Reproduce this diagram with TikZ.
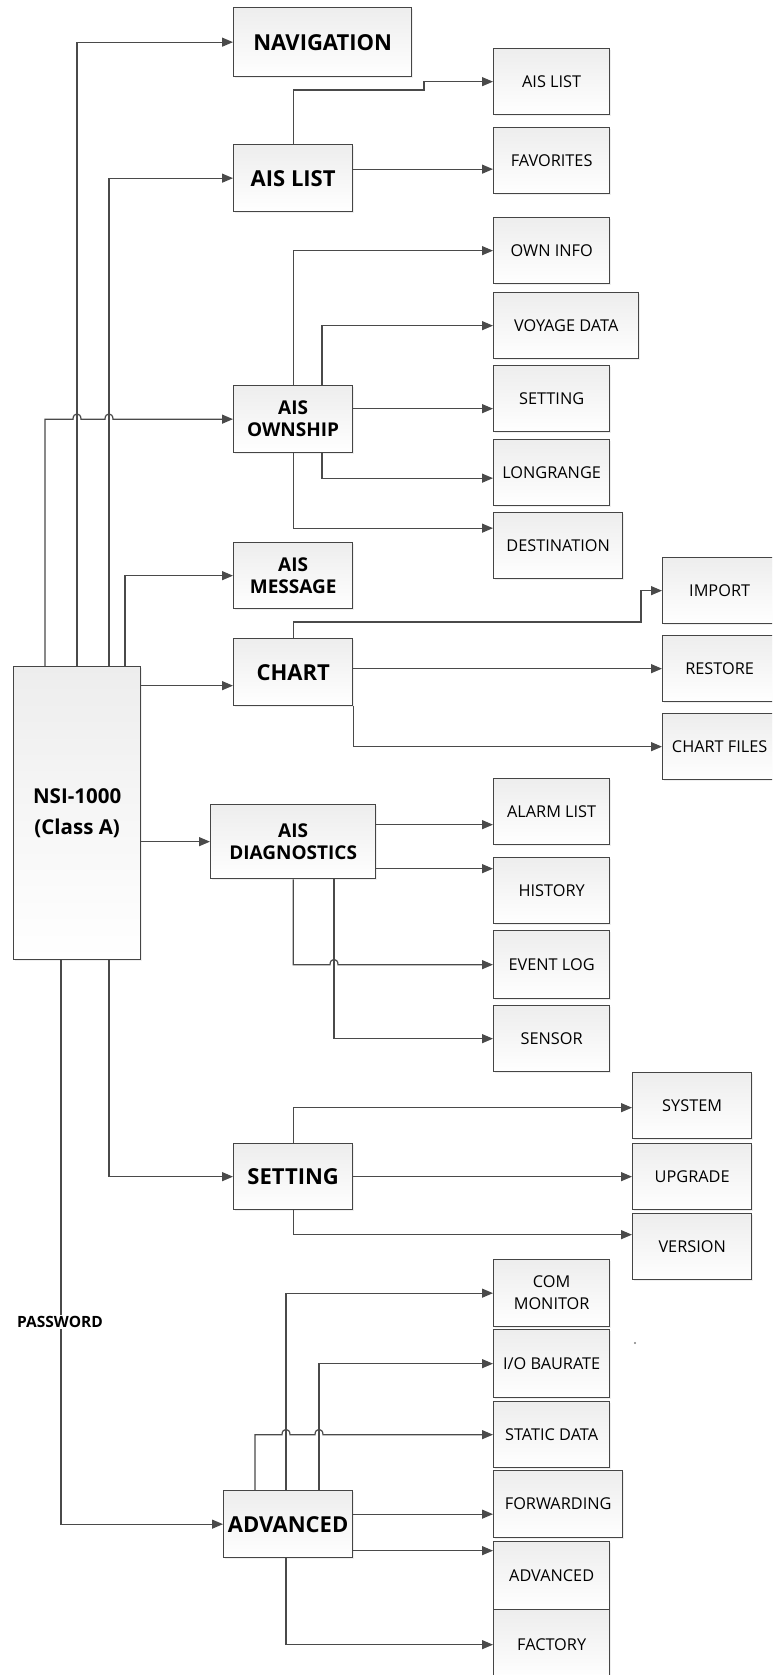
\documentclass[tikz,border=0pt]{standalone}
\usepackage{fontspec}
\setmainfont{Open Sans}
\usetikzlibrary{arrows.meta,shadows,calc}
\definecolor{edge}{HTML}{454545}
\definecolor{ln}{HTML}{4A4A4A}
\tikzset{
 box/.style={draw=edge, line width=1.3pt, top color=gray!14, bottom color=white, anchor=north west, inner sep=0pt, align=center, drop shadow={opacity=0.12, shadow xshift=1.5pt, shadow yshift=-1.5pt}},
 mainbox/.style={box, font=\bfseries\fontsize{22}{24}\selectfont},
 mainboxtwo/.style={box, font=\bfseries\fontsize{19}{22}\selectfont},
 nsibox/.style={box, font=\bfseries\fontsize{20.5}{31}\selectfont},
 subbox/.style={box, font=\fontsize{16.3}{22}\selectfont, minimum width=116pt, minimum height=66pt},
 conn/.style={draw=ln, line width=1.2pt},
 arr/.style={conn, -{Triangle[length=11pt,width=9pt]}},
 pwlabel/.style={fill=white, inner sep=1pt, font=\bfseries\fontsize{15.5}{17}\selectfont},
}
\begin{document}
\begin{tikzpicture}[x=1pt,y=-1pt]
\useasboundingbox (0,0) rectangle (772,1675);
\clip (0,0) rectangle (772,1675);
\fill[white] (0,0) rectangle (772,1675);
% main boxes
\node[nsibox, minimum width=127pt, minimum height=293pt] (nsi) at (13,666) {NSI-1000\\(Class A)};
\node[mainbox, minimum width=178pt, minimum height=69pt] (nav) at (233,7) {NAVIGATION};
\node[mainbox, minimum width=119pt, minimum height=67pt] (aislist) at (233,144) {AIS LIST};
\node[mainboxtwo, minimum width=119pt, minimum height=67pt] (own) at (233,385) {AIS\\OWNSHIP};
\node[mainboxtwo, minimum width=119pt, minimum height=66pt] (msg) at (233,542) {AIS\\MESSAGE};
\node[mainbox, minimum width=119pt, minimum height=67pt] (chart) at (233,638) {CHART};
\node[mainboxtwo, minimum width=165pt, minimum height=74pt] (diag) at (210,804) {AIS\\DIAGNOSTICS};
\node[mainbox, minimum width=119pt, minimum height=66pt] (set) at (233,1143) {SETTING};
\node[mainbox, minimum width=129pt, minimum height=67pt] (adv) at (223,1490) {ADVANCED};
% sub boxes
\node[subbox] (sublist) at (493,48) {AIS LIST};
\node[subbox] (fav) at (493,127) {FAVORITES};
\node[subbox] (owninfo) at (493,217) {OWN INFO};
\node[subbox, minimum width=145pt] (voyage) at (493,292) {VOYAGE DATA};
\node[subbox] (ownset) at (493,365) {SETTING};
\node[subbox] (longr) at (493,439) {LONGRANGE};
\node[subbox, minimum width=129pt] (dest) at (493,512) {DESTINATION};
\node[subbox, minimum width=114pt] (import) at (662,557) {IMPORT};
\node[subbox, minimum width=114pt] (restore) at (662,635) {RESTORE};
\node[subbox, minimum width=114pt] (chfiles) at (662,713) {CHART FILES};
\node[subbox] (alarm) at (493,778) {ALARM LIST};
\node[subbox] (hist) at (493,857) {HISTORY};
\node[subbox, minimum height=68pt] (event) at (493,930) {EVENT LOG};
\node[subbox] (sensor) at (493,1005) {SENSOR};
\node[subbox, minimum width=119pt] (system) at (632,1072) {SYSTEM};
\node[subbox, minimum width=119pt] (upgrade) at (632,1143) {UPGRADE};
\node[subbox, minimum width=119pt] (version) at (632,1213) {VERSION};
\node[subbox, minimum height=67pt] (com) at (493,1259) {COM\\MONITOR};
\node[subbox, minimum height=68pt] (io) at (493,1329) {I/O BAURATE};
\node[subbox] (static) at (493,1401) {STATIC DATA};
\node[subbox, minimum width=129pt, minimum height=67pt] (fwd) at (493,1470) {FORWARDING};
\node[subbox, minimum height=68pt] (advsub) at (493,1541) {ADVANCED};
\node[subbox, minimum height=70pt] (factory) at (493,1609) {FACTORY};
% NSI connectors
\coordinate (t1) at ([xshift=32pt]nsi.north west);
\coordinate (t2) at ([xshift=64pt]nsi.north west);
\coordinate (t3) at ([xshift=96pt]nsi.north west);
\coordinate (t4) at ([xshift=112pt]nsi.north west);
\coordinate (b1) at ([xshift=48pt]nsi.south west);
\coordinate (b2) at ([xshift=96pt]nsi.south west);
\draw[arr] (t2) |- (nav.west);
\draw[arr] (t3) |- (aislist.west);
\draw[arr] (t4) |- (msg.west);
\draw[arr] (t1) |- ($(t2 |- own.west)+(-4,0)$) .. controls +(0,-7) and +(0,-7) .. ($(t2 |- own.west)+(4,0)$) -- ($(t3 |- own.west)+(-4,0)$) .. controls +(0,-7) and +(0,-7) .. ($(t3 |- own.west)+(4,0)$) -- (own.west);
\coordinate (chin) at ([yshift=-13.5pt]chart.west);
\draw[arr] (chin -| nsi.east) -- (chin);
\draw[arr] (diag.west -| nsi.east) -- (diag.west);
\draw[arr] (b2) |- (set.west);
\draw[arr] (b1) |- (adv.west);
\node[pwlabel] (pw) at (60,1322) {PASSWORD};
% AIS LIST
\coordinate (ajog) at (424,90);
\draw[arr] (aislist.north) |- (ajog) |- (sublist.west);
\coordinate (favin) at ([yshift=-8.5pt]fav.west);
\draw[arr] (favin -| aislist.east) -- (favin);
% OWNSHIP
\coordinate (o2) at ([xshift=89pt]own.north west);
\coordinate (o3) at ([xshift=89pt]own.south west);
\draw[arr] (own.north) |- (owninfo.west);
\draw[arr] (o2) |- (voyage.west);
\coordinate (osin) at ([yshift=-10pt]ownset.west);
\draw[arr] (osin -| own.east) -- (osin);
\draw[arr] (o3) |- ([yshift=-5.5pt]longr.west);
\draw[arr] (own.south) |- ([yshift=17.5pt]dest.west);
% CHART
\coordinate (cjog) at (641,622);
\draw[arr] (chart.north) |- (cjog) |- (import.west);
\draw[arr] (chart.east |- restore.west) -- (restore.west);
\draw[arr] (chart.south east) |- (chfiles.west);
% DIAGNOSTICS
\coordinate (alin) at ([yshift=-13pt]alarm.west);
\draw[arr] (alin -| diag.east) -- (alin);
\coordinate (hiin) at ([yshift=22pt]hist.west);
\draw[arr] (hiin -| diag.east) -- (hiin);
\coordinate (d2) at ([xshift=124pt]diag.south west);
\draw[arr] (diag.south) |- ($(d2 |- event.west)+(-4,0)$) .. controls +(0,-7) and +(0,-7) .. ($(d2 |- event.west)+(4,0)$) -- (event.west);
\draw[arr] (d2) |- (sensor.west);
% SETTING
\draw[arr] (set.north) |- ([yshift=-2pt]system.west);
\draw[arr] (set.east) -- (upgrade.west);
\draw[arr] (set.south) |- ([yshift=12pt]version.west);
% ADVANCED
\coordinate (a1) at ([xshift=32pt]adv.north west);
\coordinate (a2) at ([xshift=63pt]adv.north west);
\coordinate (a3) at ([xshift=96pt]adv.north west);
\coordinate (a4) at ([xshift=63pt]adv.south west);
\draw[arr] (a2) |- (com.west);
\draw[arr] (a3) |- (io.west);
\draw[arr] (a1) |- ($(a2 |- static.west)+(-4,0)$) .. controls +(0,-7) and +(0,-7) .. ($(a2 |- static.west)+(4,0)$) -- ($(a3 |- static.west)+(-4,0)$) .. controls +(0,-7) and +(0,-7) .. ($(a3 |- static.west)+(4,0)$) -- (static.west);
\coordinate (fwin) at ([yshift=-10pt]fwd.west);
\draw[arr] (fwin -| adv.east) -- (fwin);
\coordinate (avin) at ([yshift=25pt]advsub.west);
\draw[arr] (avin -| adv.east) -- (avin);
\draw[arr] (a4) |- (factory.west);
\fill[gray] (635,1343) circle (1.2pt);
\end{tikzpicture}
\end{document}
